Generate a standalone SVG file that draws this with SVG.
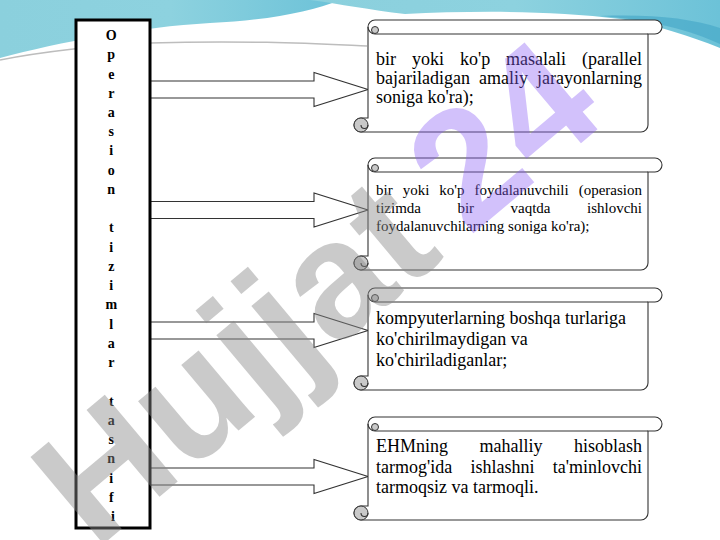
<svg xmlns="http://www.w3.org/2000/svg" width="720" height="540" viewBox="0 0 720 540">
<defs>
<linearGradient id="teal" x1="0" y1="0" x2="1" y2="0">
<stop offset="0" stop-color="#8bd0dd"/>
<stop offset="0.5" stop-color="#8dd2df"/>
<stop offset="1" stop-color="#6cc2d8"/>
</linearGradient>
<style>
.scroll{fill:#ffffff;stroke:#333333;stroke-width:1.1}
.line{fill:none;stroke:#333333;stroke-width:1.1}
.curl{fill:#c9c9c9;stroke:#333333;stroke-width:1}
.arrow{fill:#ffffff;stroke:#333333;stroke-width:1.1}
.t18{font-family:"Liberation Serif","Times New Roman",serif;font-size:18px;fill:#000000}
.t15{font-family:"Liberation Serif","Times New Roman",serif;font-size:15px;fill:#000000}
.vt{font-family:"Liberation Serif","Times New Roman",serif;font-size:14px;font-weight:bold;fill:#000000;text-anchor:middle}
.wm{font-family:"Liberation Sans",Arial,sans-serif;font-weight:bold;font-size:165px}
</style>
</defs>
<rect x="0" y="0" width="720" height="540" fill="#ffffff"/>
<g id="background">
<path d="M0,0 H340 C310,12 270,20 210,23 C140,27 60,42 0,58 Z" fill="url(#teal)"/>
<path d="M310,0 H720 V48 C690,36 660,26 620,19 C550,10 470,11 405,14 C370,10 340,4 310,0 Z" fill="url(#teal)"/>
<path d="M600,16 C650,20 690,30 720,44 V28 C690,18 650,14 600,16 Z" fill="#48a9c9" opacity="0.7"/>
<path d="M0,60 C40,52 100,45 150,43 C250,40 320,44 367,46" fill="none" stroke="#bdbdbd" stroke-width="1.5"/>
</g>
<g id="connectors">
<polygon class="arrow" points="150,81 314,81 314,72.5 368,89.5 314,106.5 314,98 150,98"/>
<polygon class="arrow" points="150,201.5 314,201.5 314,193 368,210 314,227 314,218.5 150,218.5"/>
<polygon class="arrow" points="150,322 314,322 314,313.5 368,330.5 314,347.5 314,339 150,339"/>
<polygon class="arrow" points="150,468 314,468 314,459.5 368,476.5 314,493.5 314,485 150,485"/>
</g>
<g id="category">
<rect x="76" y="20" width="74" height="508" fill="#ffffff" stroke="#000000" stroke-width="3"/>
<text class="vt">
<tspan x="113" y="40">O</tspan>
<tspan x="113" y="59.2">p</tspan>
<tspan x="113" y="78.5">e</tspan>
<tspan x="113" y="97.7">r</tspan>
<tspan x="113" y="117">a</tspan>
<tspan x="113" y="136.2">s</tspan>
<tspan x="113" y="155.4">i</tspan>
<tspan x="113" y="174.7">o</tspan>
<tspan x="113" y="193.9">n</tspan>
<tspan x="113" y="232.4">t</tspan>
<tspan x="113" y="251.6">i</tspan>
<tspan x="113" y="270.9">z</tspan>
<tspan x="113" y="290.1">i</tspan>
<tspan x="113" y="309.4">m</tspan>
<tspan x="113" y="328.6">l</tspan>
<tspan x="113" y="347.8">a</tspan>
<tspan x="113" y="367.1">r</tspan>
<tspan x="113" y="405.6">t</tspan>
<tspan x="113" y="424.8">a</tspan>
<tspan x="113" y="444">s</tspan>
<tspan x="113" y="463.3">n</tspan>
<tspan x="113" y="482.5">i</tspan>
<tspan x="113" y="501.8">f</tspan>
<tspan x="113" y="521">i</tspan>
</text>
</g>
<g id="scroll1">
<path class="scroll" d="M368,27 A7,7 0 0 1 375,20 L655,20 A7,7 0 0 1 655,34 L648,34 L648,125 A7,7 0 0 1 641,132 L361,132 A7,7 0 0 1 361,118 L368,118 Z"/>
<path class="line" d="M368,27 A7,7 0 0 0 375,34 L648,34"/>
<circle class="curl" cx="375" cy="30" r="3.5"/>
<circle class="curl" cx="361" cy="125" r="7"/>
<path class="line" d="M368,125 A3.5,3.5 0 0 1 361,125"/>
<text class="t18"><tspan x="376" y="65">bir</tspan><tspan x="412" y="65">yoki</tspan><tspan x="460" y="65">ko'p</tspan><tspan x="506" y="65">masalali</tspan><tspan x="582" y="65">(parallel</tspan></text>
<text class="t18"><tspan x="376" y="84">bajariladigan</tspan><tspan x="479" y="84">amaliy</tspan><tspan x="537" y="84">jarayonlarning</tspan></text>
<text class="t18" x="376" y="103">soniga ko'ra);</text>
</g>
<g id="scroll2">
<path class="scroll" d="M368,165 A7,7 0 0 1 375,158 L655,158 A7,7 0 0 1 655,172 L648,172 L648,263 A7,7 0 0 1 641,270 L361,270 A7,7 0 0 1 361,256 L368,256 Z"/>
<path class="line" d="M368,165 A7,7 0 0 0 375,172 L648,172"/>
<circle class="curl" cx="375" cy="168" r="3.5"/>
<circle class="curl" cx="361" cy="263" r="7"/>
<path class="line" d="M368,263 A3.5,3.5 0 0 1 361,263"/>
<text class="t15"><tspan x="376" y="195">bir</tspan><tspan x="402.7" y="195">yoki</tspan><tspan x="439.3" y="195">ko'p</tspan><tspan x="474.5" y="195">foydalanuvchili</tspan><tspan x="578.7" y="195">(operasion</tspan></text>
<text class="t15"><tspan x="376" y="213">tizimda</tspan><tspan x="457.4" y="213">bir</tspan><tspan x="510.5" y="213">vaqtda</tspan><tspan x="587" y="213">ishlovchi</tspan></text>
<text class="t15" x="376" y="231">foydalanuvchilarning soniga ko'ra);</text>
</g>
<g id="scroll3">
<path class="scroll" d="M368,295 A7,7 0 0 1 375,288 L655,288 A7,7 0 0 1 655,302 L648,302 L648,383 A7,7 0 0 1 641,390 L361,390 A7,7 0 0 1 361,376 L368,376 Z"/>
<path class="line" d="M368,295 A7,7 0 0 0 375,302 L648,302"/>
<circle class="curl" cx="375" cy="298" r="3.5"/>
<circle class="curl" cx="361" cy="383" r="7"/>
<path class="line" d="M368,383 A3.5,3.5 0 0 1 361,383"/>
<text class="t18" x="376" y="324">kompyuterlarning boshqa turlariga</text>
<text class="t18" x="376" y="345">ko'chirilmaydigan va</text>
<text class="t18" x="376" y="366">ko'chiriladiganlar;</text>
</g>
<g id="scroll4">
<path class="scroll" d="M368,424 A7,7 0 0 1 375,417 L655,417 A7,7 0 0 1 655,431 L648,431 L648,513 A7,7 0 0 1 641,520 L361,520 A7,7 0 0 1 361,506 L368,506 Z"/>
<path class="line" d="M368,424 A7,7 0 0 0 375,431 L648,431"/>
<circle class="curl" cx="375" cy="427" r="3.5"/>
<circle class="curl" cx="361" cy="513" r="7"/>
<path class="line" d="M368,513 A3.5,3.5 0 0 1 361,513"/>
<text class="t18"><tspan x="376" y="452">EHMning</tspan><tspan x="479.5" y="452">mahalliy</tspan><tspan x="574" y="452">hisoblash</tspan></text>
<text class="t18"><tspan x="376" y="472.5">tarmog'ida</tspan><tspan x="470.5" y="472.5">ishlashni</tspan><tspan x="552.8" y="472.5">ta'minlovchi</tspan></text>
<text class="t18" x="376" y="493">tarmoqsiz va tarmoqli.</text>
</g>
<g id="watermark" transform="translate(95,551) rotate(-40)">
<text class="wm" x="0" y="0"><tspan fill="#8a8a8a" fill-opacity="0.45">Hujjat</tspan><tspan dx="30" fill="#8a5cf5" fill-opacity="0.38">24</tspan></text>
</g>
</svg>
